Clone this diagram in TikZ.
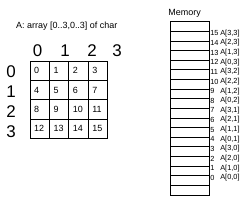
\documentclass[tikz,border=0pt]{standalone}
\usepackage{fontspec}
\setmainfont{Liberation Sans}
\begin{document}
\begin{tikzpicture}[x=1bp,y=-1bp,
  gridcell/.style={draw, line width=0.8bp, minimum width=19.375bp, minimum height=19.375bp, inner sep=0pt, outer sep=0pt, anchor=north west},
  cellnum/.style={anchor=west, inner sep=0pt, font=\fontsize{9}{9}\selectfont},
  memcell/.style={draw, line width=0.8bp, minimum width=39.3bp, minimum height=9.63bp, inner sep=0pt, outer sep=0pt, anchor=north west},
  memnum/.style={anchor=west, inner sep=0pt, font=\fontsize{7.4}{8}\selectfont},
  header/.style={inner sep=0pt, font=\fontsize{17}{17}\selectfont},
  caption/.style={anchor=west, inner sep=0pt, font=\fontsize{9}{9}\selectfont}
]
\useasboundingbox (0,0) rectangle (250,201);
\node[caption] (title) at (16,26.5) {A: array [0..3,0..3] of char};
\node[caption] (memtitle) at (168.3,13) {Memory};
% column headers
\node[header] (ch0) at (37.7,51) {0};
\node[header] (ch1) at (65,51) {1};
\node[header] (ch2) at (92,51) {2};
\node[header] (ch3) at (117,51) {3};
% row headers
\node[header] (rh0) at (11,72) {0};
\node[header] (rh1) at (11,92) {1};
\node[header] (rh2) at (11,112) {2};
\node[header] (rh3) at (11,131.5) {3};
% grid
\foreach \r in {0,...,3}{
  \foreach \c in {0,...,3}{
    \pgfmathtruncatemacro\n{4*\r+\c}
    \node[gridcell] (g\r\c) at ({30+19.375*\c},{61+19.375*\r}) {};
    \node[cellnum] (n\r\c) at ([xshift=4bp]g\r\c.west) {\n};
  }
}
% memory
\foreach \i in {0,...,17}{
  \node[memcell] (m\i) at (170,{21.7+9.63*\i}) {};
}
\foreach \k in {0,...,15}{
  \pgfmathtruncatemacro\ci{15-\k}
  \pgfmathtruncatemacro\ar{mod(\k,4)}
  \pgfmathtruncatemacro\ac{div(\k,4)}
  \node[memnum] (mn\k) at ([shift={(0.8bp,-2bp)}]m\ci.south east) {\k};
  \node[memnum] (ma\k) at ([shift={(10.8bp,-2bp)}]m\ci.south east) {A[\ar,\ac]};
}
\end{tikzpicture}
\end{document}
